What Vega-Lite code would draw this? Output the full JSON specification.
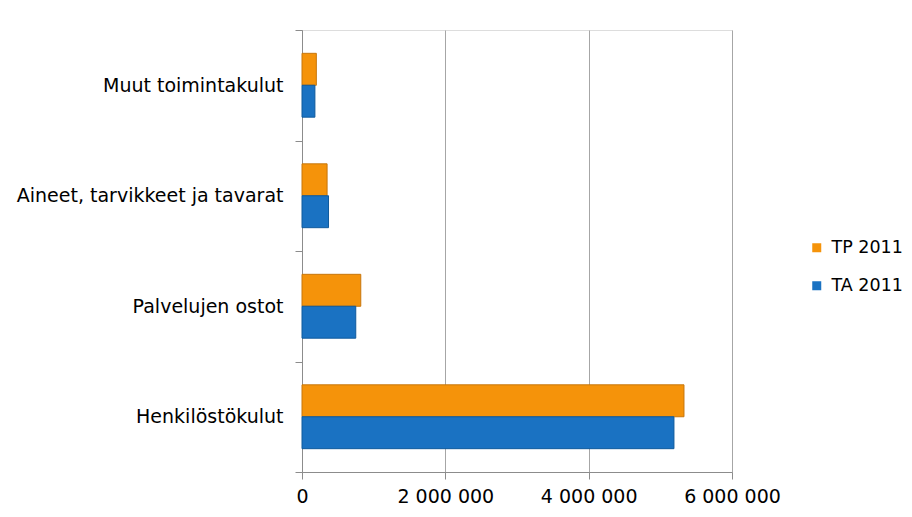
{
  "$schema": "https://vega.github.io/schema/vega-lite/v6.json",
  "width": 430,
  "height": 442,
  "autosize": {"type": "none"},
  "padding": {"left": 302, "top": 30, "right": 180, "bottom": 45},
  "background": "white",
  "data": {
    "values": [
      {"kategoria": "Muut toimintakulut", "sarja": "TP 2011", "arvo": 200000},
      {"kategoria": "Muut toimintakulut", "sarja": "TA 2011", "arvo": 180000},
      {"kategoria": "Aineet, tarvikkeet ja tavarat", "sarja": "TP 2011", "arvo": 350000},
      {"kategoria": "Aineet, tarvikkeet ja tavarat", "sarja": "TA 2011", "arvo": 370000},
      {"kategoria": "Palvelujen ostot", "sarja": "TP 2011", "arvo": 820000},
      {"kategoria": "Palvelujen ostot", "sarja": "TA 2011", "arvo": 750000},
      {"kategoria": "Henkilöstökulut", "sarja": "TP 2011", "arvo": 5330000},
      {"kategoria": "Henkilöstökulut", "sarja": "TA 2011", "arvo": 5190000}
    ]
  },
  "mark": {"type": "bar", "strokeWidth": 1},
  "encoding": {
    "y": {
      "field": "kategoria",
      "type": "nominal",
      "sort": ["Muut toimintakulut", "Aineet, tarvikkeet ja tavarat", "Palvelujen ostot", "Henkilöstökulut"],
      "scale": {"paddingInner": 0, "paddingOuter": 0},
      "axis": {
        "title": null,
        "tickBand": "extent",
        "labelFont": "DejaVu Sans",
        "labelFontSize": 19,
        "labelColor": "#000000",
        "labelPadding": 12,
        "labelLimit": 400,
        "tickSize": 7,
        "tickColor": "#8c8c8c",
        "domainColor": "#8c8c8c",
        "grid": false
      }
    },
    "yOffset": {
      "field": "sarja",
      "type": "nominal",
      "sort": ["TP 2011", "TA 2011"],
      "scale": {"paddingInner": 0, "paddingOuter": 0.73}
    },
    "x": {
      "field": "arvo",
      "type": "quantitative",
      "scale": {"domain": [0, 6000000], "nice": false},
      "axis": {
        "title": null,
        "values": [0, 2000000, 4000000, 6000000],
        "labelExpr": "replace(format(datum.value, ','), regexp(',', 'g'), ' ')",
        "labelFont": "DejaVu Sans",
        "labelFontSize": 19,
        "labelColor": "#000000",
        "labelPadding": 8,
        "tickSize": 7,
        "tickColor": "#8c8c8c",
        "domainColor": "#8c8c8c",
        "grid": true,
        "gridColor": "#a6a6a6",
        "gridOpacity": 1,
        "labelFlush": false,
        "labelOverlap": false
      }
    },
    "color": {
      "field": "sarja",
      "type": "nominal",
      "scale": {"domain": ["TP 2011", "TA 2011"], "range": ["#f5930a", "#1a72c2"]},
      "legend": {
        "title": null,
        "orient": "none",
        "legendX": 506,
        "legendY": 209,
        "symbolType": "square",
        "symbolSize": 81,
        "symbolStrokeWidth": 0,
        "labelFont": "DejaVu Sans",
        "labelFontSize": 17.5,
        "labelColor": "#000000",
        "labelOffset": 6,
        "rowPadding": 19
      }
    },
    "stroke": {
      "field": "sarja",
      "type": "nominal",
      "scale": {"domain": ["TP 2011", "TA 2011"], "range": ["#c7760c", "#0f5a9c"]},
      "legend": null
    }
  }
}
